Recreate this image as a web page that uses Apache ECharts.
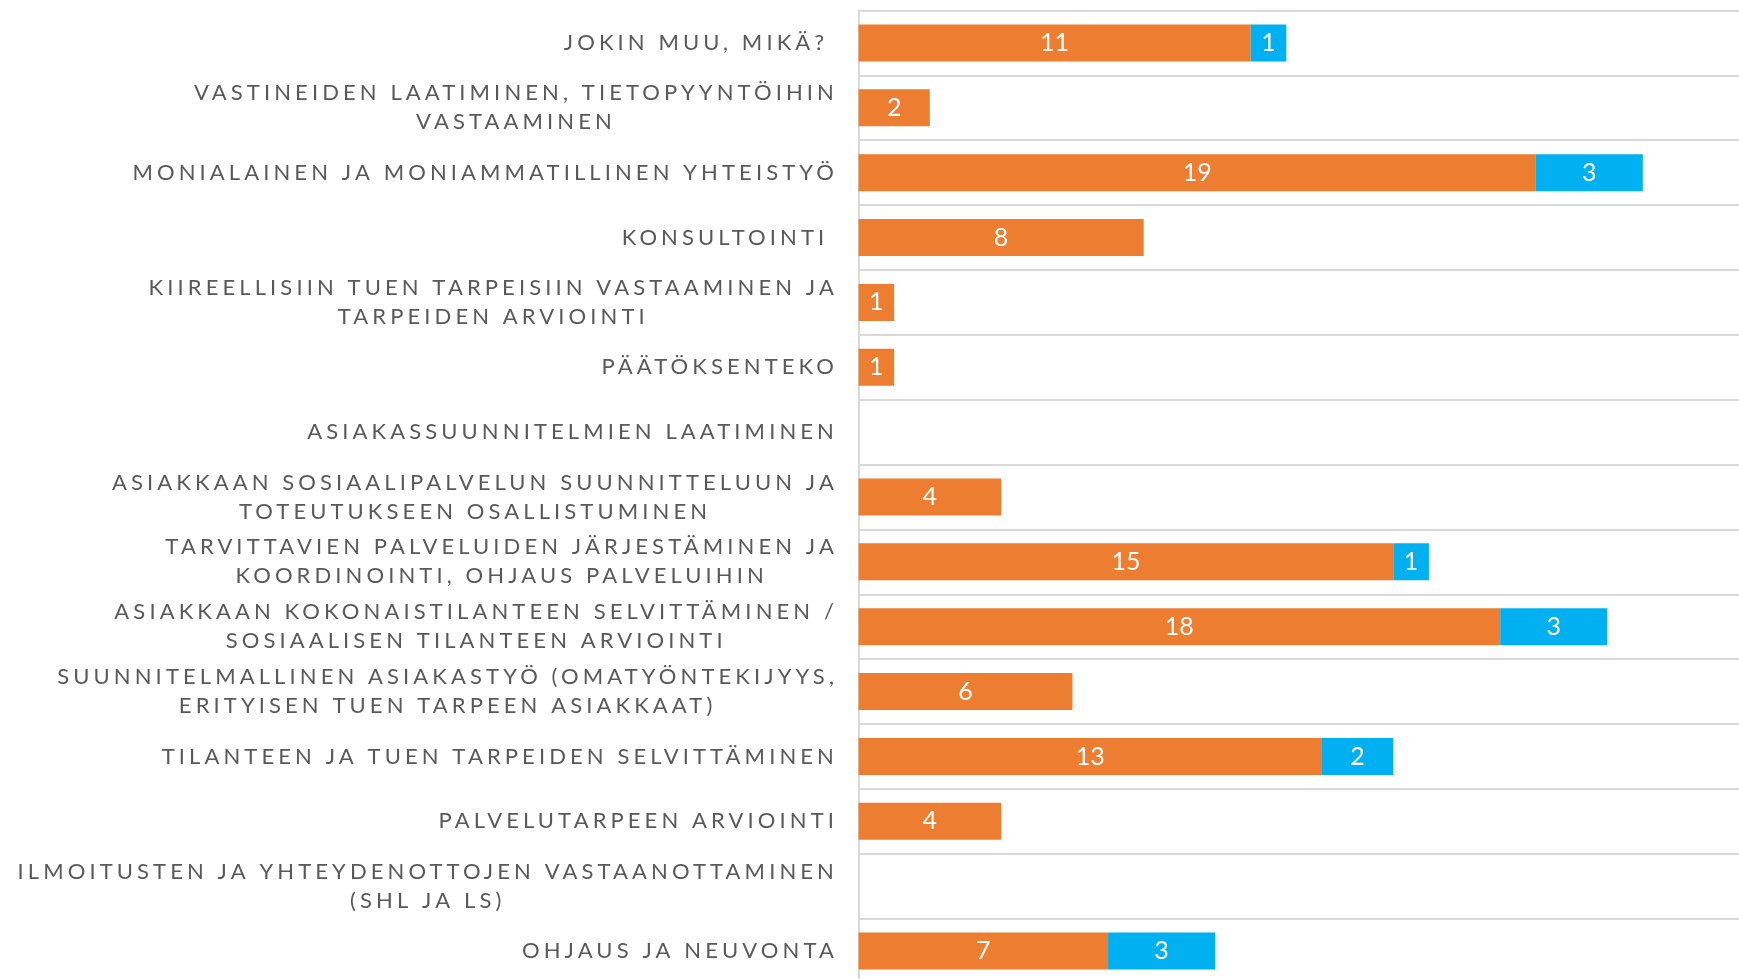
<!DOCTYPE html>
<html>
<head>
<meta charset="utf-8">
<script src="https://cdn.jsdelivr.net/npm/echarts@6/dist/echarts.min.js"></script>
<style>
html,body{margin:0;padding:0;background:#fff;}
#main{width:1739px;height:979px;}
</style>
</head>
<body>
<div id="main"></div>
<script>
// kategoriat ylhäältä alas
var categories = [
    'JOKIN MUU, MIKÄ? ',
    'VASTINEIDEN LAATIMINEN, TIETOPYYNTÖIHIN\nVASTAAMINEN',
    'MONIALAINEN JA MONIAMMATILLINEN YHTEISTYÖ',
    'KONSULTOINTI ',
    'KIIREELLISIIN TUEN TARPEISIIN VASTAAMINEN JA\nTARPEIDEN ARVIOINTI',
    'PÄÄTÖKSENTEKO',
    'ASIAKASSUUNNITELMIEN LAATIMINEN',
    'ASIAKKAAN SOSIAALIPALVELUN SUUNNITTELUUN JA\nTOTEUTUKSEEN OSALLISTUMINEN',
    'TARVITTAVIEN PALVELUIDEN JÄRJESTÄMINEN JA\nKOORDINOINTI, OHJAUS PALVELUIHIN',
    'ASIAKKAAN KOKONAISTILANTEEN SELVITTÄMINEN /\nSOSIAALISEN TILANTEEN ARVIOINTI',
    'SUUNNITELMALLINEN ASIAKASTYÖ (OMATYÖNTEKIJYYS,\nERITYISEN TUEN TARPEEN ASIAKKAAT)',
    'TILANTEEN JA TUEN TARPEIDEN SELVITTÄMINEN',
    'PALVELUTARPEEN ARVIOINTI',
    'ILMOITUSTEN JA YHTEYDENOTTOJEN VASTAANOTTAMINEN\n(SHL JA LS)',
    'OHJAUS JA NEUVONTA'
];
var orangeValues = [11, 2, 19, 8, 1, 1, 0, 4, 15, 18, 6, 13, 4, 0, 7];
var blueValues   = [1, 0, 3, 0, 0, 0, 0, 0, 1, 3, 0, 2, 0, 0, 3];

// harvennettu kirjainväli akselin teksteille (canvas letterSpacing)
(function(){
    var proto = CanvasRenderingContext2D.prototype;
    if (!('letterSpacing' in proto)) return;
    var fill = proto.fillText, measure = proto.measureText;
    function spacing(ctx){
        ctx.letterSpacing = /(^|\s)22px/.test(ctx.font) ? '4.1px' : '0px';
    }
    proto.fillText = function(){ spacing(this); return fill.apply(this, arguments); };
    proto.measureText = function(){ spacing(this); return measure.apply(this, arguments); };
})();

var chart = echarts.init(document.getElementById('main'));

var labelStyle = {
    show: true,
    position: 'inside',
    color: '#fff',
    fontFamily: 'Lato',
    fontSize: 25,
    formatter: function(p){ return p.value ? p.value : ''; }
};

var option = {
    animation: false,
    backgroundColor: '#fff',
    grid: {
        left: 858.5,
        top: 10.5,
        right: -10.75,
        bottom: -4.5,
        outerBoundsMode: 'none'
    },
    xAxis: {
        type: 'value',
        min: 0,
        max: 25,
        axisLine: {show: false},
        axisTick: {show: false},
        axisLabel: {show: false},
        splitLine: {show: false}
    },
    yAxis: {
        type: 'category',
        inverse: true,
        data: categories,
        axisLine: {lineStyle: {color: '#d9d9d9', width: 2}},
        axisTick: {show: false},
        splitLine: {show: true, lineStyle: {color: '#d9d9d9', width: 2}},
        axisLabel: {
            interval: 0,
            margin: 20.5,
            formatter: function(v){
                return '{c|' + v.split('\n').join('}\n{c|') + '}';
            },
            rich: {
                c: {
                    align: 'center',
                    fontFamily: 'Lato',
                    fontSize: 22,
                    lineHeight: 29,
                    color: '#595959'
                }
            }
        }
    },
    series: [{
        name: 'orange',
        type: 'bar',
        stack: 'total',
        barWidth: 37,
        data: orangeValues,
        itemStyle: {color: '#ED7D31'},
        label: labelStyle
    }, {
        name: 'blue',
        type: 'bar',
        stack: 'total',
        barWidth: 37,
        data: blueValues,
        itemStyle: {color: '#00B0F0'},
        label: labelStyle
    }]
};
chart.setOption(option);
</script>
</body>
</html>
